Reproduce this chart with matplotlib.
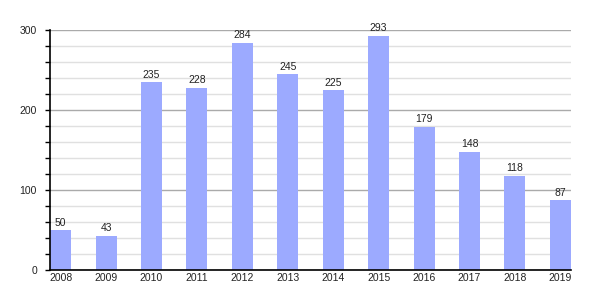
import matplotlib
matplotlib.use("Agg")
import matplotlib.pyplot as plt
from matplotlib.ticker import MultipleLocator

plt.rcParams['font.family'] = ['Liberation Sans', 'DejaVu Sans']

years = ["2008", "2009", "2010", "2011", "2012", "2013",
         "2014", "2015", "2016", "2017", "2018", "2019"]
values = [50, 43, 235, 228, 284, 245, 225, 293, 179, 148, 118, 87]

fig = plt.figure(figsize=(6, 3), dpi=100)
ax = fig.add_axes([50/600, 30/300, 521/600, 240/300])

x = range(len(years))
bars = ax.bar(x, values, width=0.46, color='#9caaff', zorder=3)

for xi, v in zip(x, values):
    ax.text(xi, v + 3, str(v), ha='center', va='bottom', fontsize=7.5, color='#222222')

ax.set_xlim(-0.235, len(years) - 1 + 0.235)
ax.set_ylim(0, 300)
ax.set_xticks(list(x))
ax.set_xticklabels(years, fontsize=7.5, color='#222222')
ax.yaxis.set_major_locator(MultipleLocator(100))
ax.yaxis.set_minor_locator(MultipleLocator(20))
ax.tick_params(axis='y', which='major', labelsize=7.5, labelcolor='#222222',
               length=3.6, width=1, pad=5.8)
ax.tick_params(axis='y', which='minor', length=3.6, width=1)
ax.tick_params(axis='x', length=0, pad=2.5)

ax.grid(axis='y', which='major', color='#aaaaaa', linewidth=1, zorder=1)
ax.grid(axis='y', which='minor', color='#e0e0e0', linewidth=1, zorder=1)
ax.set_axisbelow(True)

for s in ['top', 'right']:
    ax.spines[s].set_visible(False)
ax.spines['left'].set_linewidth(1.2)
ax.spines['bottom'].set_linewidth(1.2)
ax.spines['left'].set_zorder(4)
ax.spines['bottom'].set_zorder(4)

fig.savefig("out.png", dpi=100)
